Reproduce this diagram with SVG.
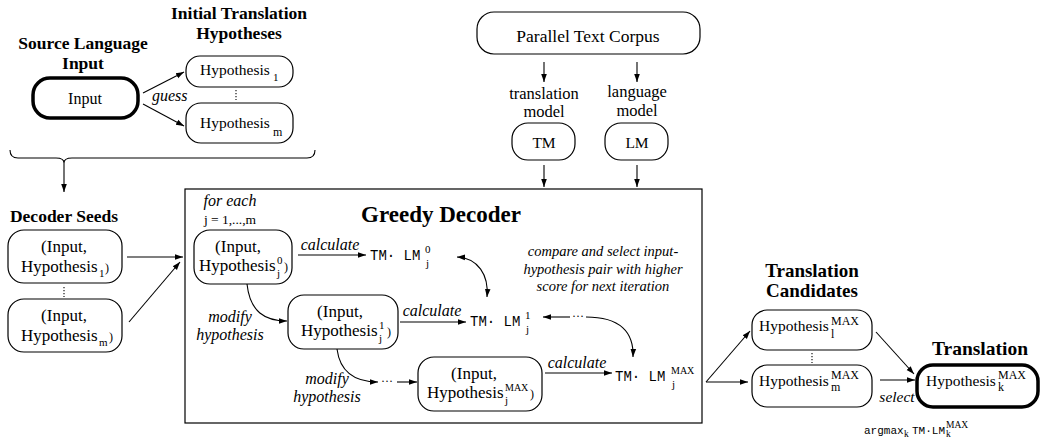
<svg xmlns="http://www.w3.org/2000/svg" width="1042" height="439" viewBox="0 0 1042 439">
<style>
text{font-family:"Liberation Serif","Times New Roman",serif;fill:#000}
.b{font-weight:bold}
.i{font-style:italic}
.m{font-family:"Liberation Mono","Courier New",monospace}
.c{text-anchor:middle}
.box{fill:#fff;stroke:#000;stroke-width:1.2}
.thick{stroke-width:3.5}
.ln{fill:none;stroke:#000;stroke-width:1.1}
.arr{marker-end:url(#ah)}
.dot{stroke:#000;stroke-width:1.1;stroke-dasharray:1.3 1.7}
</style>
<defs>
<marker id="ah" viewBox="0 0 10 10" refX="10" refY="5" markerWidth="8" markerHeight="8" markerUnits="userSpaceOnUse" orient="auto-start-reverse">
<path d="M0,1.5 L10,5 L0,8.5 z" fill="#000"/>
</marker>
</defs>
<rect width="1042" height="439" fill="#fff"/>

<g id="titles">
<text class="b c" x="83" y="49" font-size="17.5">Source Language</text>
<text class="b c" x="83" y="69" font-size="17.5">Input</text>
<text class="b c" x="239" y="19" font-size="17.5">Initial Translation</text>
<text class="b c" x="239" y="39" font-size="17.5">Hypotheses</text>
<text class="b c" x="64" y="222" font-size="17.5">Decoder Seeds</text>
<text class="b c" x="812" y="277" font-size="19">Translation</text>
<text class="b c" x="812" y="297" font-size="19">Candidates</text>
<text class="b c" x="980" y="355" font-size="19.5">Translation</text>
</g>

<g id="greedy-decoder">
<rect x="185" y="189" width="517" height="234" fill="none" stroke="#000" stroke-width="1.2"/>
<text class="b c" x="441" y="222" font-size="23">Greedy Decoder</text>
<text class="i c" x="230" y="206" font-size="16">for each</text>
<text class="c" x="230" y="224" font-size="13.5">j = 1,...,m</text>
<text class="i c" x="603" y="256" font-size="14.5">compare and select input-</text>
<text class="i c" x="603" y="274" font-size="14.5">hypothesis pair with higher</text>
<text class="i c" x="603" y="291" font-size="14.5">score for next iteration</text>
</g>

<g id="input">
<rect class="box thick" x="33" y="78" width="105" height="40" rx="17"/>
<text class="c" x="85" y="104" font-size="16">Input</text>
</g>

<g id="hyp1">
<rect class="box" x="186" y="56" width="107" height="31" rx="14"/>
<text x="200" y="75" font-size="15.5">Hypothesis</text>
<text x="273" y="81" font-size="11">1</text>
</g>
<line class="dot" x1="236" y1="90" x2="236" y2="100"/>
<g id="hypm">
<rect class="box" x="186" y="103" width="107" height="40" rx="15"/>
<text x="200" y="128" font-size="15.5">Hypothesis</text>
<text x="273" y="136" font-size="12">m</text>
</g>

<g id="corpus">
<rect class="box" x="477" y="12" width="223" height="42" rx="17"/>
<text class="c" x="588" y="42" font-size="17.5">Parallel Text Corpus</text>
</g>
<g id="tm">
<text class="c" x="544" y="99" font-size="16.5">translation</text>
<text class="c" x="544" y="117" font-size="16.5">model</text>
<rect class="box" x="512" y="123" width="63" height="37" rx="16"/>
<text class="c" x="544" y="148" font-size="15.5">TM</text>
</g>
<g id="lm">
<text class="c" x="637" y="97" font-size="16.5">language</text>
<text class="c" x="637" y="116" font-size="16.5">model</text>
<rect class="box" x="605" y="123" width="63" height="37" rx="16"/>
<text class="c" x="637" y="148" font-size="15.5">LM</text>
</g>

<g id="seed1">
<rect class="box" x="8" y="230" width="114" height="53" rx="16"/>
<text class="c" x="64" y="252" font-size="17">(Input,</text>
<text x="21" y="272" font-size="17">Hypothesis</text>
<text x="99" y="277" font-size="11">1</text>
<text x="105" y="272" font-size="12">)</text>
</g>
<line class="dot" x1="64" y1="287" x2="64" y2="297"/>
<g id="seedm">
<rect class="box" x="8" y="299" width="114" height="53" rx="16"/>
<text class="c" x="64" y="321" font-size="17">(Input,</text>
<text x="21" y="341" font-size="17">Hypothesis</text>
<text x="99" y="346" font-size="11">m</text>
<text x="109" y="341" font-size="12">)</text>
</g>

<g id="node0">
<rect class="box" x="194" y="230" width="98" height="54" rx="16"/>
<text class="c" x="238" y="252" font-size="17">(Input,</text>
<text x="199" y="271" font-size="17">Hypothesis</text>
<text x="277" y="264" font-size="11">0</text>
<text x="277" y="277" font-size="11">j</text>
<text x="284" y="271" font-size="12">)</text>
</g>
<g id="node1">
<rect class="box" x="288" y="295" width="110" height="54" rx="16"/>
<text class="c" x="340" y="317" font-size="17">(Input,</text>
<text x="301" y="336" font-size="17">Hypothesis</text>
<text x="379" y="329" font-size="11">1</text>
<text x="379" y="342" font-size="11">j</text>
<text x="387" y="336" font-size="12">)</text>
</g>
<g id="nodemax">
<rect class="box" x="418" y="357" width="124" height="54" rx="16"/>
<text class="c" x="474" y="379" font-size="17">(Input,</text>
<text x="427" y="398" font-size="17">Hypothesis</text>
<text x="505" y="391" font-size="10">MAX</text>
<text x="505" y="404" font-size="11">j</text>
<text x="530" y="398" font-size="12">)</text>
</g>

<g id="score0">
<text class="m" x="370" y="260" font-size="14">TM· LM</text>
<text x="425" y="253" font-size="11">0</text>
<text x="426" y="267" font-size="11">j</text>
</g>
<g id="score1">
<text class="m" x="470" y="326" font-size="14">TM· LM</text>
<text x="525" y="319" font-size="11">1</text>
<text x="526" y="333" font-size="11">j</text>
</g>
<g id="scoremax">
<text class="m" x="615" y="381" font-size="14">TM· LM</text>
<text x="671" y="374" font-size="10">MAX</text>
<text x="672" y="388" font-size="11">j</text>
</g>

<g id="cand1">
<rect class="box" x="752" y="310" width="120" height="40" rx="15"/>
<text x="759" y="331" font-size="15.5">Hypothesis</text>
<text x="831" y="325" font-size="12">MAX</text>
<text x="831" y="338" font-size="12">l</text>
</g>
<line class="dot" x1="812" y1="353" x2="812" y2="363"/>
<g id="candm">
<rect class="box" x="752" y="365" width="120" height="42" rx="15"/>
<text x="759" y="386" font-size="15.5">Hypothesis</text>
<text x="831" y="379" font-size="12">MAX</text>
<text x="831" y="391" font-size="12">m</text>
</g>
<g id="translation">
<rect class="box thick" x="917" y="365" width="121" height="42" rx="16"/>
<text x="926" y="386" font-size="15.5">Hypothesis</text>
<text x="998" y="379" font-size="12">MAX</text>
<text x="998" y="391" font-size="12">k</text>
</g>
<g id="argmax">
<text class="m" x="864" y="434" font-size="11">argmax</text>
<text x="904" y="437" font-size="9.5">k</text>
<text class="m" x="912" y="434" font-size="11">TM·LM</text>
<text x="946" y="428" font-size="9.5">MAX</text>
<text x="946" y="437" font-size="9.5">k</text>
</g>

<g id="connectors">
<path class="ln arr" d="M143,93 L184,72"/>
<path class="ln arr" d="M143,104 L184,126"/>
<text class="i" x="152" y="101" font-size="16">guess</text>
<path class="ln" d="M10,150 Q10,158 18,158 L56,158 Q64,158 64,163 Q64,158 72,158 L307,158 Q315,158 315,150"/>
<path class="ln arr" d="M64,163 L64,192"/>
<path class="ln arr" d="M544,62 L544,82"/>
<path class="ln arr" d="M637,62 L637,82"/>
<path class="ln arr" d="M544,165 L544,187"/>
<path class="ln arr" d="M637,165 L637,187"/>
<path class="ln arr" d="M127,257 L183,257"/>
<path class="ln arr" d="M129,322 L180,262"/>
<path class="ln arr" d="M298,255 L366,255"/>
<text class="i c" x="330" y="250" font-size="16">calculate</text>
<path class="ln arr" d="M400,322 L466,322"/>
<text class="i c" x="432" y="316" font-size="16">calculate</text>
<path class="ln arr" d="M545,373 L612,373"/>
<text class="i c" x="577" y="368" font-size="16">calculate</text>
<path class="ln arr" d="M457,257 C478,258 489,275 487,297" marker-start="url(#ah)"/>
<path class="ln" d="M543,317 L570,317" marker-start="url(#ah)"/>
<text x="572" y="320" font-size="12">···</text>
<path class="ln arr" d="M586,317 C620,317 634,332 633,357"/>
<path class="ln arr" d="M247,284 C250,312 265,321 287,321"/>
<text class="i c" x="230" y="322" font-size="16">modify</text>
<text class="i c" x="230" y="340" font-size="16">hypothesis</text>
<path class="ln arr" d="M337,349 C340,372 355,382 378,382"/>
<text x="381" y="385" font-size="12">···</text>
<path class="ln arr" d="M397,382 L417,382"/>
<text class="i c" x="327" y="384" font-size="16">modify</text>
<text class="i c" x="327" y="402" font-size="16">hypothesis</text>
<path class="ln arr" d="M706,382 L750,331"/>
<path class="ln arr" d="M706,382 L748,382"/>
<path class="ln arr" d="M876,332 L914,374"/>
<path class="ln arr" d="M880,380 L915,380"/>
<text class="i c" x="897" y="402" font-size="15.5">select</text>
</g>
</svg>
